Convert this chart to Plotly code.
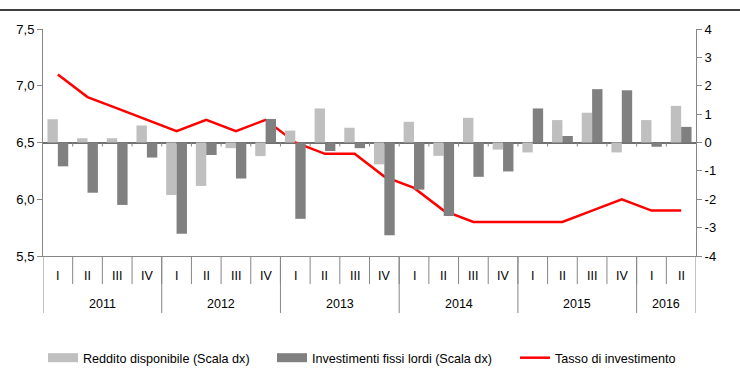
import plotly.graph_objects as go

years = ["2011"]*4 + ["2012"]*4 + ["2013"]*4 + ["2014"]*4 + ["2015"]*4 + ["2016"]*2
quarters = ["I", "II", "III", "IV"]*5 + ["I", "II"]

reddito = [0.82, 0.15, 0.15, 0.60, -1.85, -1.53, -0.20, -0.48, 0.42, 1.20, 0.52, -0.77,
           0.73, -0.47, 0.87, -0.25, -0.35, 0.79, 1.05, -0.35, 0.79, 1.29]
investimenti = [-0.84, -1.77, -2.20, -0.53, -3.22, -0.44, -1.27, 0.83, -2.69, -0.30, -0.20, -3.27,
                -1.66, -2.59, -1.21, -1.02, 1.20, 0.23, 1.88, 1.84, -0.15, 0.55]
tasso = [7.1, 6.9, 6.8, 6.7, 6.6, 6.7, 6.6, 6.7, 6.5, 6.4, 6.4, 6.2,
         6.1, 5.9, 5.8, 5.8, 5.8, 5.8, 5.9, 6.0, 5.9, 5.9]
left_ticks = [5.5, 6.0, 6.5, 7.0, 7.5]
right_ticks = [-4, -3, -2, -1, 0, 1, 2, 3, 4]

LIGHT, DARK, RED, AXC = "#BFBFBF", "#808080", "#FF0000", "#868686"
font = "Liberation Sans, Arial, sans-serif"
cats = [f"{y} {q}" for y, q in zip(years, quarters)]
n = len(cats)

L, R, T, B = 43, 44, 29, 133
W, H = 740, 389
pw = W - L - R
ph = H - T - B

fig = go.Figure()
fig.add_trace(go.Bar(x=cats, y=reddito, name="Reddito disponibile (Scala dx)",
                     marker=dict(color=LIGHT, line=dict(width=0)), yaxis="y2", legend="legend"))
fig.add_trace(go.Bar(x=cats, y=investimenti, name="Investimenti fissi lordi (Scala dx)",
                     marker=dict(color=DARK, line=dict(width=0)), yaxis="y2", legend="legend2"))
fig.add_trace(go.Scatter(x=cats, y=tasso, name="Tasso di investimento", mode="lines",
                         line=dict(color=RED, width=2.5), yaxis="y", legend="legend3"))
for tr in fig.data[:2]:
    tr.showlegend = False
# wide legend boxes like the original
for nm, col, lg in [("Reddito disponibile (Scala dx)", LIGHT, "legend"),
                    ("Investimenti fissi lordi (Scala dx)", DARK, "legend2")]:
    fig.add_trace(go.Scatter(x=[None], y=[None], name=nm, mode="lines", legend=lg,
                             line=dict(color=col, width=9), hoverinfo="skip"))

# x-axis labels (quarters and years)
annotations = []
for i, q in enumerate(quarters):
    annotations.append(dict(x=i, y=-20 / ph, xref="x", yref="paper", text=q, showarrow=False,
                            xanchor="center", yanchor="middle", font=dict(size=12.5)))
year_list = list(dict.fromkeys(years))
bounds = [-0.5]
for yv in year_list:
    idx = [i for i, y in enumerate(years) if y == yv]
    annotations.append(dict(x=sum(idx) / len(idx), y=-48 / ph, xref="x", yref="paper", text=yv,
                            showarrow=False, xanchor="center", yanchor="middle",
                            font=dict(size=12.5)))
    bounds.append(idx[-1] + 0.5)

shapes = [dict(type="line", xref="paper", yref="paper",
               x0=-L / pw, x1=(W - L) / pw, y0=(H - B - 10) / ph, y1=(H - B - 10) / ph,
               line=dict(color="#404040", width=2))]
for b in bounds:
    shapes.append(dict(type="line", xref="x", yref="paper", ysizemode="pixel", yanchor=0,
                       x0=b, x1=b, y0=0, y1=-57, line=dict(color=AXC, width=1)))
for b in [i + 0.5 for i in range(n - 1)]:
    shapes.append(dict(type="line", xref="x", yref="paper", ysizemode="pixel", yanchor=0,
                       x0=b, x1=b, y0=0, y1=-28, line=dict(color=AXC, width=1)))
    shapes.append(dict(type="line", xref="x", yref="y2", ysizemode="pixel", yanchor=0,
                       x0=b, x1=b, y0=0, y1=-4, line=dict(color=AXC, width=1)))

leg_y = -(343 - 256) / ph
def leg(px):
    return dict(orientation="h", x=(px - 5 - L) / pw, xanchor="left", y=leg_y, yanchor="top",
                font=dict(size=12.6), itemclick=False, itemdoubleclick=False,
                bgcolor="rgba(0,0,0,0)")

fig.update_layout(
    width=W, height=H,
    margin=dict(l=L, r=R, t=T, b=B, autoexpand=False),
    paper_bgcolor="white", plot_bgcolor="white",
    font=dict(family=font, size=12, color="#000000"),
    barmode="group", bargap=0.3, bargroupgap=0,
    showlegend=True,
    legend=leg(48), legend2=leg(277), legend3=leg(520),
    xaxis=dict(type="category", showline=True, linecolor=AXC, linewidth=1,
               showticklabels=False, ticks="", showgrid=False, zeroline=False,
               range=[-0.5, n - 0.5]),
    yaxis=dict(range=[5.5, 7.5], tickvals=left_ticks,
               ticktext=[f"{v:.1f}".replace(".", ",") for v in left_ticks], showline=True,
               linecolor=AXC, ticks="outside", ticklen=5, tickcolor=AXC,
               showgrid=False, zeroline=False, tickfont=dict(size=13)),
    yaxis2=dict(range=[-4, 4], tickvals=right_ticks, ticktext=[str(v) for v in right_ticks],
                overlaying="y", side="right", showline=True,
                linecolor=AXC, ticks="outside", ticklen=5, tickcolor=AXC,
                showgrid=False, zeroline=True, zerolinecolor="#707070", zerolinewidth=1.5,
                tickfont=dict(size=13)),
    annotations=annotations,
    shapes=shapes,
)

fig.write_html("out.html", config={"displayModeBar": False},
               post_script="document.body.style.margin='0';")
